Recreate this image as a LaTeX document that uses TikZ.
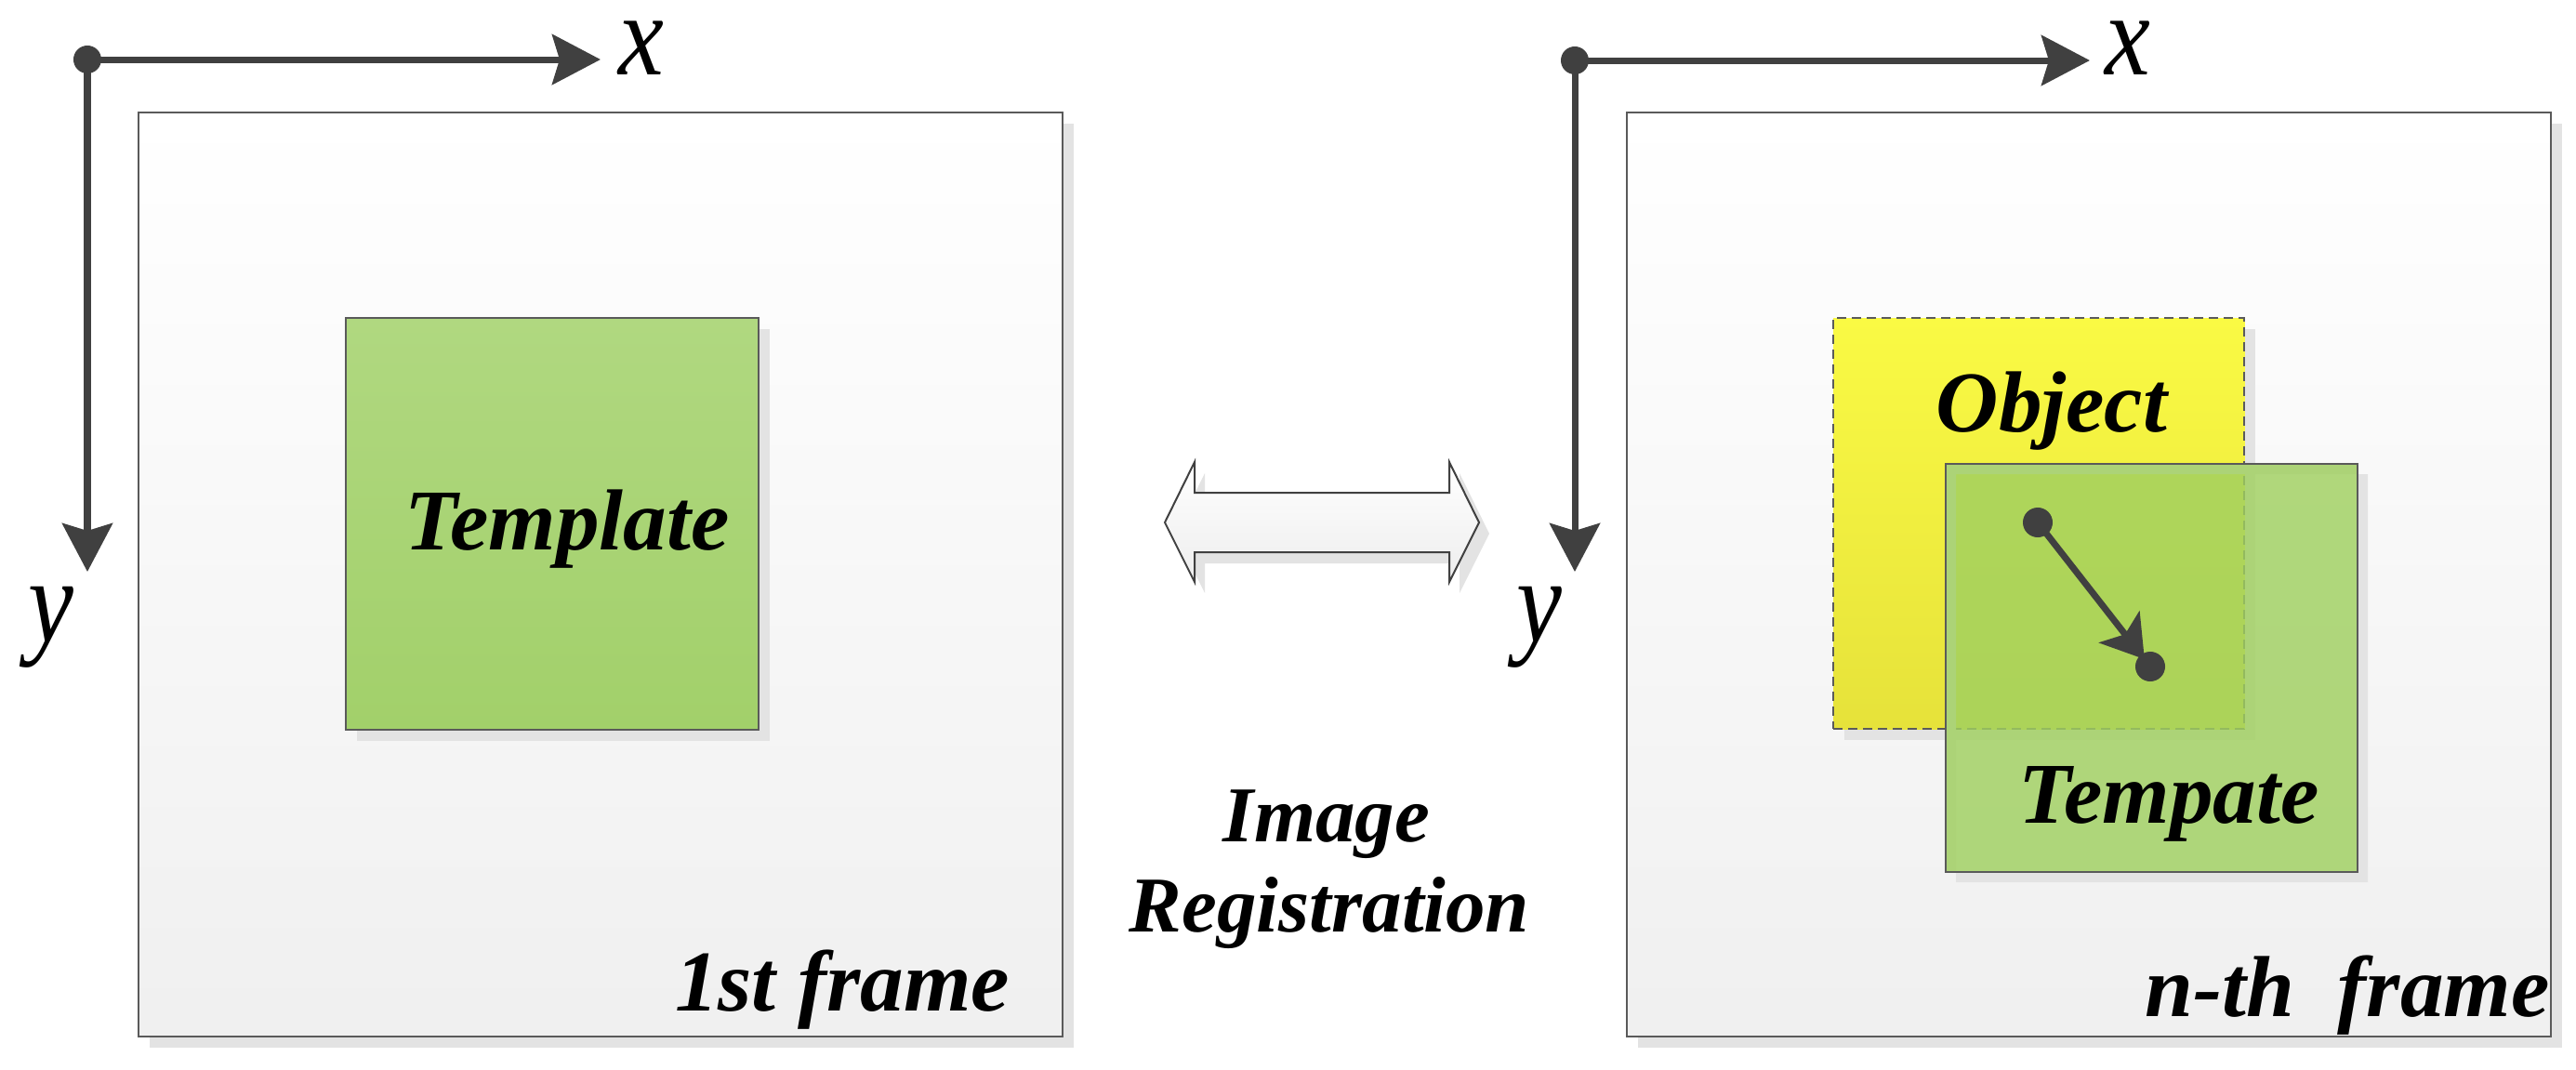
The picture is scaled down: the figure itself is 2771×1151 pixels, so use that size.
\documentclass[tikz,border=0pt]{standalone}
\usepackage{fontspec}
\setmainfont{Liberation Serif}
\usetikzlibrary{arrows.meta,shadows}
\definecolor{axisgray}{HTML}{404040}
\definecolor{framegray}{HTML}{5A5A5A}
\definecolor{shadowgray}{HTML}{E3E3E3}
\definecolor{greentop}{HTML}{B0D880}
\definecolor{greenbot}{HTML}{A2D06A}
\definecolor{yellowtop}{HTML}{FAFA44}
\definecolor{yellowbot}{HTML}{E6E23A}
\definecolor{green2}{HTML}{A0D060}
\begin{document}
\begin{tikzpicture}[x=0.01cm,y=-0.01cm,
  myshadow/.style={drop shadow={shadow xshift=0.12cm,shadow yshift=-0.12cm,fill=shadowgray,opacity=1}},
  framebox/.style={draw=framegray,line width=0.02cm,top color=white,bottom color=black!6,
    minimum width=9.93cm,minimum height=9.93cm,anchor=north west,inner sep=0,myshadow},
  tmplbox/.style={draw=framegray,line width=0.02cm,top color=greentop,bottom color=greenbot,
    anchor=north west,inner sep=0,myshadow},
  objbox/.style={draw=framegray,line width=0.02cm,dashed,dash pattern=on 0.1cm off 0.06cm,
    top color=yellowtop,bottom color=yellowbot,anchor=north west,inner sep=0,myshadow},
  axisline/.style={draw=axisgray,line width=0.07cm,-{Stealth[length=0.52cm,width=0.54cm,inset=0.08cm]}},
  lbl/.style={anchor=base,inner sep=0,font=\fontsize{26.5}{30}\selectfont\bfseries\itshape},
  axlbl/.style={anchor=base,inner sep=0,font=\fontsize{34}{38}\selectfont\itshape},
  dotc/.style={fill=axisgray}]
\useasboundingbox (0,0) rectangle (2771,1151);

% frames
\node[framebox] (fL) at (148,120) {};
\node[framebox] (fR) at (1749,120) {};

% left template
\node[tmplbox,minimum width=4.44cm,minimum height=4.43cm] (tL) at (371,341) {};

% object (yellow)
\node[objbox,minimum width=4.42cm,minimum height=4.42cm] (obj) at (1971,341) {};

% moved template
\fill[shadowgray,even odd rule] (2104,510) rectangle (2547,949) (2092,498) rectangle (2535,937);
\node[draw=framegray,line width=0.02cm,fill=green2,fill opacity=0.82,anchor=north west,inner sep=0,
  minimum width=4.43cm,minimum height=4.39cm] (tR) at (2092,498) {};

% axes left
\coordinate (oL) at (94,64);
\coordinate (xL) at (646,64);
\coordinate (yL) at (94,615);
\draw[axisline] (oL) -- (xL);
\draw[axisline] (oL) -- (yL);
\fill[dotc] (oL) circle (0.15cm);
\node[axlbl] (xLl) at (690,80) {\smash{\scalebox{0.92}[1.05]{x}}};
\node[axlbl] (yLl) at (55,690) {\scalebox{0.92}[1.08]{y}};

% axes right
\coordinate (oR) at (1694,65);
\coordinate (xR) at (2248,65);
\coordinate (yR) at (1694,615);
\draw[axisline] (oR) -- (xR);
\draw[axisline] (oR) -- (yR);
\fill[dotc] (oR) circle (0.15cm);
\node[axlbl] (xRl) at (2289,80) {\smash{\scalebox{0.92}[1.05]{x}}};
\node[axlbl] (yRl) at (1656,690) {\scalebox{0.92}[1.08]{y}};

% displacement arrow
\coordinate (pA) at (2192,562);
\coordinate (pB) at (2313,717);
\draw[draw=axisgray,line width=0.07cm,shorten >=0.1cm,
  -{Stealth[length=0.44cm,width=0.55cm,inset=0.1cm]}] (pA) -- (pB);
\fill[dotc] (pA) circle (0.16cm);
\fill[dotc] (pB) circle (0.16cm);

% double arrow
\fill[shadowgray] (1264,574) -- (1296,509) -- (1296,542) -- (1570,542) -- (1570,509) -- (1602,574)
  -- (1570,638) -- (1570,606) -- (1296,606) -- (1296,638) -- cycle;
\shade[top color=white,bottom color=black!7,draw=axisgray,line width=0.02cm]
  (1253,562) -- (1285,497) -- (1285,530) -- (1559,530) -- (1559,497) -- (1591,562)
  -- (1559,626) -- (1559,594) -- (1285,594) -- (1285,626) -- cycle;

% labels
\node[lbl] (tLt) at (610,591) {Template};
\node[lbl] (objt) at (2207,464) {Object};
\node[lbl] (tRt) at (2333,885) {Tempate};
\node[lbl] (f1) at (906,1087) {1st frame};
\node[lbl] (fn) at (2525,1093) {n-th\ \ frame};
\node[lbl,font=\fontsize{24.2}{28}\selectfont\bfseries\itshape] (reg1) at (1427,905) {Image};
\node[lbl,font=\fontsize{24.2}{28}\selectfont\bfseries\itshape] (reg2) at (1430,1002) {Registration};
\end{tikzpicture}
\end{document}
